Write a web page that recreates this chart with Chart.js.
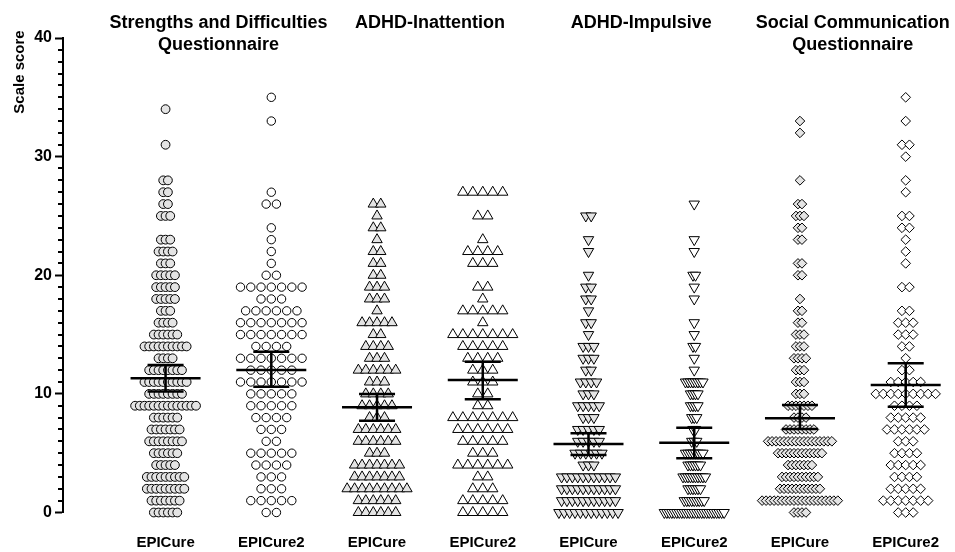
<!DOCTYPE html>
<html>
<head>
<meta charset="utf-8">
<script src="https://cdn.jsdelivr.net/npm/chart.js@4.4.1/dist/chart.umd.min.js"></script>
<style>
  html, body { margin: 0; padding: 0; background: #fff; }
</style>
</head>
<body>
<canvas id="dotChart" width="955" height="552"></canvas>
<script>
// cohorts and questionnaires
const cohorts = ['EPICure', 'EPICure2', 'EPICure', 'EPICure2', 'EPICure', 'EPICure2', 'EPICure', 'EPICure2'];
const measures = [
    ['Strengths and Difficulties', 'Questionnaire'],
    ['ADHD-Inattention'],
    ['ADHD-Impulsive'],
    ['Social Communication', 'Questionnaire']
];
const yTicks = [0, 10, 20, 30, 40];

// number of children at each scale score (index = score 0, 1, 2 ...)
const sdqEpicure   = [6, 7, 9, 9, 5, 6, 8, 7, 6, 14, 8, 10, 8, 4, 10, 6, 4, 3, 5, 5, 5, 3, 4, 3, 0, 3, 2, 2, 2, 0, 0, 1, 0, 0, 1];
const sdqEpicure2  = [2, 5, 3, 3, 4, 5, 2, 3, 4, 5, 5, 7, 5, 7, 4, 7, 7, 6, 3, 7, 2, 1, 1, 1, 1, 0, 2, 1, 0, 0, 0, 0, 0, 1, 0, 1];
const inattEpicure = [6, 6, 9, 7, 7, 3, 6, 6, 3, 5, 4, 3, 6, 3, 4, 2, 5, 1, 3, 3, 2, 2, 2, 1, 2, 1, 2];
const inattEpicure2 = [5, 5, 3, 2, 6, 3, 5, 6, 7, 2, 2, 3, 3, 4, 5, 7, 1, 5, 1, 2, 0, 3, 4, 1, 0, 2, 0, 5];
const impEpicure   = [12, 11, 11, 11, 3, 6, 5, 5, 3, 5, 3, 4, 2, 3, 3, 1, 2, 1, 2, 2, 1, 0, 1, 1, 0, 2];
const impEpicure2  = [25, 9, 6, 10, 6, 8, 3, 2, 3, 4, 4, 8, 1, 1, 2, 1, 1, 0, 1, 1, 2, 0, 1, 1, 0, 0, 1];
const scqEpicure   = [4, 20, 11, 10, 7, 12, 17, 8, 4, 7, 3, 3, 3, 4, 3, 3, 2, 2, 1, 0, 2, 2, 0, 2, 2, 3, 2, 0, 1, 0, 0, 0, 1, 1];
const scqEpicure2  = [3, 7, 5, 4, 5, 4, 3, 6, 5, 4, 9, 5, 2, 1, 2, 3, 3, 2, 0, 2, 0, 1, 1, 1, 2, 2, 0, 1, 1, 0, 1, 2, 0, 1, 0, 1];

// mean and 95% CI
const means  = [11.31, 12.02, 8.87, 11.17, 5.78, 5.89, 7.94, 10.75];
const ciLow  = [10.19, 10.61, 7.74, 9.54, 4.85, 4.57, 7.04, 8.92];
const ciHigh = [12.44, 13.56, 9.99, 12.71, 6.68, 7.15, 9.06, 12.58];

const FONT = '"Liberation Sans", Arial, Helvetica, sans-serif';
const UNIT_PX = 106.1; // pixels per group on x

// row gap between neighbouring markers (px), per column
const gaps = [4.7, 10.3, 7.5, 10, 5.4, 2.5, 4, 7.5];

function swarm(counts, group, gapPx) {
    const pts = [];
    counts.forEach((n, score) => {
        for (let i = 0; i < n; i++) {
            pts.push({ x: group + (i - (n - 1) / 2) * gapPx / UNIT_PX, y: score });
        }
    });
    return pts;
}

const allCounts = [sdqEpicure, sdqEpicure2, inattEpicure, inattEpicure2, impEpicure, impEpicure2, scqEpicure, scqEpicure2];
const shapes = ['circle', 'circle', 'triangle', 'triangle', 'triangle', 'triangle', 'rectRot', 'rectRot'];
const sizes = [4.4, 4.2, 6, 6, 6, 6, 4.8, 4.8];
const turns = [0, 0, 0, 0, 180, 180, 0, 0];

const datasets = allCounts.map((c, i) => ({
    label: cohorts[i],
    data: swarm(c, i + 1, gaps[i]),
    pointStyle: shapes[i],
    pointRadius: sizes[i],
    rotation: turns[i],
    backgroundColor: i % 2 === 0 ? '#e4e4e4' : '#ffffff',
    borderColor: '#000',
    borderWidth: 1,
    showLine: false
}));

// mean + CI bars
const errorBars = {
    id: 'errorBars',
    afterDatasetsDraw(chart) {
        const { ctx, scales: { x, y } } = chart;
        ctx.save();
        ctx.strokeStyle = '#000';
        ctx.lineWidth = 2.5;
        means.forEach((m, i) => {
            const cx = x.getPixelForValue(i + 1);
            const ym = y.getPixelForValue(m);
            const yl = y.getPixelForValue(ciLow[i]);
            const yh = y.getPixelForValue(ciHigh[i]);
            ctx.beginPath();
            ctx.moveTo(cx - 35, ym); ctx.lineTo(cx + 35, ym);
            ctx.moveTo(cx - 18, yl); ctx.lineTo(cx + 18, yl);
            ctx.moveTo(cx - 18, yh); ctx.lineTo(cx + 18, yh);
            ctx.moveTo(cx, yl); ctx.lineTo(cx, yh);
            ctx.stroke();
        });
        ctx.restore();
    }
};

// headers, group labels, y title, minor ticks
const labels = {
    id: 'labels',
    afterDraw(chart) {
        const { ctx, chartArea, scales: { x, y } } = chart;
        ctx.save();
        ctx.fillStyle = '#000';
        ctx.textAlign = 'center';
        ctx.textBaseline = 'alphabetic';

        ctx.font = 'bold 18px ' + FONT;
        measures.forEach((lines, k) => {
            const cx = x.getPixelForValue(2 * k + 1.5);
            lines.forEach((t, j) => ctx.fillText(t, cx, 28 + j * 22));
        });

        ctx.font = 'bold 15px ' + FONT;
        cohorts.forEach((c, i) => ctx.fillText(c, x.getPixelForValue(i + 1), 547));

        ctx.save();
        ctx.translate(20, 72);
        ctx.rotate(-Math.PI / 2);
        ctx.textBaseline = 'middle';
        ctx.fillText('Scale score', 0, 0);
        ctx.restore();

        ctx.strokeStyle = '#000';
        ctx.lineWidth = 2;
        ctx.beginPath();
        for (let v = 1; v < 40; v++) {
            if (v % 10 === 0) continue;
            const py = Math.round(y.getPixelForValue(v));
            ctx.moveTo(chartArea.left - 5, py);
            ctx.lineTo(chartArea.left, py);
        }
        ctx.stroke();
        ctx.restore();
    }
};

new Chart(document.getElementById('dotChart'), {
    type: 'scatter',
    data: { datasets },
    options: {
        responsive: false,
        animation: false,
        devicePixelRatio: 1,
        events: [],
        layout: { padding: { top: 38, right: 4, bottom: 39.5, left: 0 } },
        plugins: { legend: { display: false }, tooltip: { enabled: false } },
        clip: false,
        scales: {
            x: { type: 'linear', min: 0.03, max: 8.4, display: false },
            y: {
                min: 0,
                max: 40,
                afterFit: s => { s.width = 63; },
                afterBuildTicks: s => { s.ticks = yTicks.map(v => ({ value: v })); },
                ticks: { color: '#000', padding: 3, font: { family: FONT, size: 16, weight: 'bold' } },
                grid: { drawOnChartArea: false, tickLength: 8, tickWidth: 2, tickColor: '#000' },
                border: { color: '#000', width: 2 }
            }
        }
    },
    plugins: [errorBars, labels]
});
</script>
</body>
</html>
